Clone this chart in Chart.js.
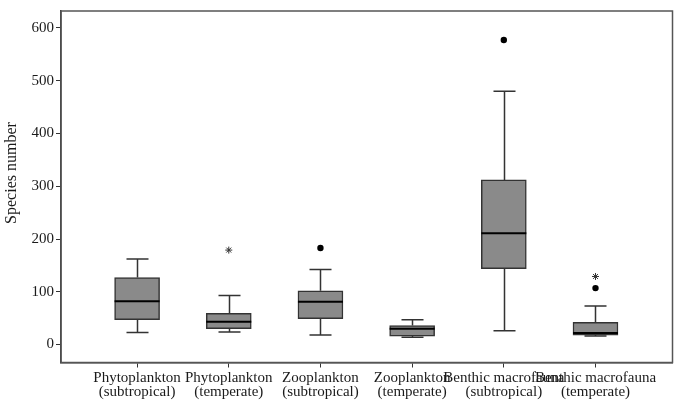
<!DOCTYPE html>
<html>
<head>
<meta charset="utf-8">
<script src="https://cdn.jsdelivr.net/npm/chart.js@4.4.1/dist/chart.umd.min.js"></script>
<style>
  html, body { margin: 0; padding: 0; background: #fff; }
  #wrap { width: 680px; height: 401px; }
</style>
</head>
<body>
<div id="wrap"><canvas id="boxChart" width="680" height="401"></canvas></div>
<script>
// kategori dan ringkasan box plot
const categories = [
  ['Phytoplankton', '(subtropical)'],
  ['Phytoplankton', '(temperate)'],
  ['Zooplankton', '(subtropical)'],
  ['Zooplankton', '(temperate)'],
  ['Benthic macrofauna', '(subtropical)'],
  ['Benthic macrofauna', '(temperate)']
];
const whiskerLow  = [23, 24, 18, 14, 26, 16];
const q1          = [47, 30, 49, 16, 144, 18];
const median      = [82, 43, 81, 30, 211, 22];
const q3          = [127, 59, 102, 36, 312, 42];
const whiskerHigh = [162, 93, 142, 47, 480, 73];

// outlier (titik) dan nilai ekstrem (bintang)
const outlierPos = [2, 4, 5];
const outlierVal = [183, 577, 107];
const extremePos = [1, 5];
const extremeVal = [179, 129];

const yTicks = [0, 100, 200, 300, 400, 500, 600];
const yTitle = 'Species number';

const FONT = 'Liberation Serif, Times New Roman, serif';
const INK = '#1a1a1a';

const boxWhiskers = {
  id: 'boxWhiskers',
  beforeDatasetsDraw(chart) {
    const { ctx, chartArea, scales: { x, y } } = chart;
    ctx.save();
    // frame around plot area
    ctx.strokeStyle = '#555';
    ctx.lineWidth = 1.5;
    ctx.strokeRect(chartArea.left, chartArea.top, chartArea.right - chartArea.left, chartArea.bottom - chartArea.top);
    // whiskers
    ctx.strokeStyle = '#333';
    ctx.lineWidth = 1.5;
    const cap = 22;
    categories.forEach((c, i) => {
      const cx = Math.round(x.getPixelForValue(i)) + 0.5;
      const yl = y.getPixelForValue(whiskerLow[i]);
      const yh = y.getPixelForValue(whiskerHigh[i]);
      const y1 = y.getPixelForValue(q1[i]);
      const y3 = y.getPixelForValue(q3[i]);
      ctx.beginPath();
      ctx.moveTo(cx, y3); ctx.lineTo(cx, yh);
      ctx.moveTo(cx - cap / 2, yh); ctx.lineTo(cx + cap / 2, yh);
      ctx.moveTo(cx, y1); ctx.lineTo(cx, yl);
      ctx.moveTo(cx - cap / 2, yl); ctx.lineTo(cx + cap / 2, yl);
      ctx.stroke();
    });
    // judul sumbu y
    ctx.translate(12, 173);
    ctx.rotate(-Math.PI / 2);
    ctx.fillStyle = INK;
    ctx.font = '16px ' + FONT;
    ctx.textAlign = 'center';
    ctx.textBaseline = 'middle';
    ctx.fillText(yTitle, 0, 0);
    ctx.restore();
  },
  afterDatasetsDraw(chart) {
    const { ctx, scales: { x, y } } = chart;
    const meta = chart.getDatasetMeta(0);
    ctx.save();
    ctx.strokeStyle = '#000';
    ctx.lineWidth = 2;
    categories.forEach((c, i) => {
      const bar = meta.data[i];
      const cx = x.getPixelForValue(i);
      const ym = y.getPixelForValue(median[i]);
      ctx.beginPath();
      ctx.moveTo(cx - bar.width / 2, ym);
      ctx.lineTo(cx + bar.width / 2, ym);
      ctx.stroke();
    });
    ctx.restore();
  }
};

const ctx = document.getElementById('boxChart');
new Chart(ctx.getContext('2d'), {
  type: 'bar',
  data: {
    datasets: [
      {
        label: 'Box',
        data: categories.map((c, i) => ({ x: i, y: [q1[i], q3[i]] })),
        backgroundColor: '#8a8a8a',
        borderColor: '#333',
        borderWidth: 1.5,
        borderSkipped: false,
        barThickness: 45
      },
      {
        type: 'scatter',
        label: 'Outlier',
        data: outlierPos.map((p, i) => ({ x: p, y: outlierVal[i] })),
        pointStyle: 'circle',
        pointRadius: 3.2,
        backgroundColor: '#000',
        borderColor: '#000',
        borderWidth: 0
      },
      {
        type: 'scatter',
        label: 'Extreme',
        data: extremePos.map((p, i) => ({ x: p, y: extremeVal[i] })),
        pointStyle: 'star',
        pointRadius: 3.5,
        backgroundColor: '#333',
        borderColor: '#333',
        borderWidth: 1
      }
    ]
  },
  options: {
    responsive: false,
    animation: false,
    layout: { padding: { left: 0, right: 7.5, top: 7, bottom: 0 } },
    plugins: {
      legend: { display: false },
      tooltip: { enabled: false }
    },
    scales: {
      x: {
        type: 'linear',
        offset: false,
        min: -0.83,
        max: 5.84,
        afterBuildTicks: scale => { scale.ticks = categories.map((c, i) => ({ value: i })); },
        afterFit: scale => { scale.height = 38.5; },
        grid: { display: true, offset: false, drawOnChartArea: false, drawTicks: true, tickLength: 5, color: '#333' },
        border: { display: true, color: '#333', width: 1.5 },
        ticks: {
          autoSkip: false,
          maxRotation: 0,
          padding: 4,
          color: INK,
          font: { family: FONT, size: 15, lineHeight: 0.92 },
          callback: value => categories[value]
        }
      },
      y: {
        min: -34,
        max: 632,
        afterBuildTicks: scale => { scale.ticks = yTicks.map(v => ({ value: v })); },
        afterFit: scale => { scale.width = 61; },
        grid: { display: true, drawOnChartArea: false, drawTicks: true, tickLength: 5, color: '#333' },
        border: { display: true, color: '#333', width: 1.5 },
        ticks: {
          padding: 2,
          color: INK,
          font: { family: FONT, size: 15 }
        }
      }
    }
  },
  plugins: [boxWhiskers]
});
</script>
</body>
</html>
